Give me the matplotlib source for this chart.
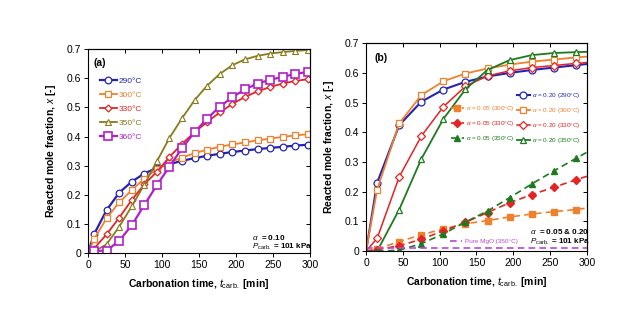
import numpy as np
import matplotlib
matplotlib.use('Agg')
import matplotlib.pyplot as plt
from matplotlib.lines import Line2D

plt.rcParams['font.family'] = ['Liberation Sans', 'DejaVu Sans']
plt.rcParams['mathtext.fontset'] = 'custom'
plt.rcParams['mathtext.rm'] = 'Liberation Sans'
plt.rcParams['mathtext.it'] = 'Liberation Sans:italic'
plt.rcParams['mathtext.bf'] = 'Liberation Sans:bold'

# ---- panel (a): alpha = 0.10, five temperatures ----
t_a = [0, 8, 25, 42, 59, 76, 93, 110, 127, 144, 161, 178, 195, 212, 229, 246, 263, 280, 297]
x_290 = [0, 0.064, 0.147, 0.207, 0.245, 0.273, 0.293, 0.305, 0.317, 0.326, 0.334, 0.341, 0.347,
         0.352, 0.357, 0.361, 0.365, 0.369, 0.372]
x_300 = [0, 0.047, 0.119, 0.174, 0.216, 0.256, 0.288, 0.310, 0.328, 0.343, 0.355, 0.365, 0.373,
         0.380, 0.387, 0.393, 0.399, 0.404, 0.408]
x_330 = [0, 0.015, 0.064, 0.121, 0.182, 0.236, 0.279, 0.330, 0.375, 0.415, 0.450, 0.483, 0.512,
         0.536, 0.555, 0.570, 0.582, 0.591, 0.597]
x_350 = [0, 0.005, 0.030, 0.090, 0.160, 0.235, 0.315, 0.395, 0.463, 0.525, 0.575, 0.615, 0.645,
         0.665, 0.677, 0.685, 0.690, 0.694, 0.697]
x_360 = [0, 0.008, 0.008, 0.042, 0.095, 0.165, 0.233, 0.297, 0.360, 0.415, 0.462, 0.503, 0.535,
         0.562, 0.582, 0.595, 0.605, 0.615, 0.622]

# ---- panel (b): alpha = 0.05 (dashed, filled) and 0.20 (solid, open) ----
t_b = [0, 15, 45, 75, 105, 135, 165, 195, 225, 255, 285, 300]
b20_290 = [0, 0.230, 0.424, 0.503, 0.544, 0.570, 0.588, 0.600, 0.610, 0.618, 0.626, 0.630]
b20_300 = [0, 0.207, 0.430, 0.525, 0.572, 0.598, 0.615, 0.628, 0.638, 0.645, 0.652, 0.655]
b20_330 = [0, 0.043, 0.250, 0.387, 0.486, 0.555, 0.590, 0.607, 0.618, 0.625, 0.632, 0.635]
b20_350 = [0, 0.000, 0.140, 0.310, 0.445, 0.545, 0.610, 0.643, 0.660, 0.667, 0.670, 0.671]
b05_300 = [0, 0.008, 0.032, 0.055, 0.075, 0.092, 0.103, 0.115, 0.125, 0.133, 0.140, 0.145]
b05_330 = [0, 0.005, 0.018, 0.040, 0.068, 0.097, 0.130, 0.163, 0.190, 0.215, 0.240, 0.252]
b05_350 = [0, 0.000, 0.003, 0.025, 0.058, 0.098, 0.135, 0.180, 0.226, 0.270, 0.312, 0.333]
t_mgo = [0, 300]
x_mgo = [0.010, 0.010]

BLUE = '#2424b4'
ORANGE = '#f0802c'
RED = '#e42424'
OLIVE = '#8a7a1c'
PURPLE = '#b020c8'
GREEN = '#1e7a1e'
MGO = '#b848d8'

fig = plt.figure(figsize=(6.4, 3.3), dpi=100)
ax_a = fig.add_axes([0.1375, 0.233, 0.347, 0.618])
ax_b = fig.add_axes([0.572, 0.239, 0.345, 0.630])


def style_axes(ax):
    ax.set_xlim(0, 300)
    ax.set_ylim(0, 0.7)
    ax.set_xticks(np.arange(0, 301, 50))
    ax.set_yticks(np.arange(0, 0.71, 0.1))
    ax.set_yticklabels(['0', '0.1', '0.2', '0.3', '0.4', '0.5', '0.6', '0.7'])
    ax.tick_params(direction='out', length=3, width=0.7, labelsize=7.5, pad=2)
    for s in ax.spines.values():
        s.set_linewidth(0.8)
    top = ax.secondary_xaxis('top')
    top.set_xticks(np.arange(0, 301, 50))
    top.set_xticklabels([])
    top.tick_params(direction='in', length=3, width=0.7)
    right = ax.secondary_yaxis('right')
    right.set_yticks(np.arange(0, 0.71, 0.1))
    right.set_yticklabels([])
    right.tick_params(direction='in', length=3, width=0.7)
    ax.set_xlabel(r'Carbonation time, $t_{\mathrm{carb.}}$ [min]', fontsize=7.5,
                  fontweight='bold', labelpad=5)
    ax.set_ylabel(r'Reacted mole fraction, $x$ [-]', fontsize=7.5, fontweight='bold', labelpad=6)


# panel (a)
mk = range(1, len(t_a))
ax_a.plot(t_a, x_290, '-o', color=BLUE, lw=1.6, ms=4.8, mfc='white', mew=0.9, markevery=mk, label='290°C')
ax_a.plot(t_a, x_300, '-s', color=ORANGE, lw=1.3, ms=5, mfc='white', mew=0.9, markevery=mk, label='300°C')
ax_a.plot(t_a, x_330, '-D', color=RED, lw=1.3, ms=3.5, mfc='white', mew=0.9, markevery=mk, label='330°C')
ax_a.plot(t_a, x_350, '-^', color=OLIVE, lw=1.3, ms=4, mfc='white', mew=0.8, markevery=mk, label='350°C')
ax_a.plot(t_a, x_360, '-s', color=PURPLE, lw=1.6, ms=5.5, mfc='white', mew=1.2, markevery=mk, label='360°C')
style_axes(ax_a)
ax_a.legend(loc='upper left', bbox_to_anchor=(0.02, 0.90), frameon=False, fontsize=6,
            handlelength=2.0, handletextpad=0.2, labelspacing=0.75, labelcolor='linecolor')
ax_a.text(0.025, 0.955, '(a)', transform=ax_a.transAxes, fontsize=7.5, fontweight='bold', va='top')
ax_a.text(0.74, 0.066, r'$\alpha$  = 0.10', transform=ax_a.transAxes, fontsize=5.8,
          fontweight='bold', va='baseline')
ax_a.text(0.74, 0.022, r'$P_{\mathrm{carb.}}$ = 101 kPa', transform=ax_a.transAxes, fontsize=5.8,
          fontweight='bold', va='baseline')

# panel (b)
mb = range(1, len(t_b) - 1)
l290 = ax_b.plot(t_b, b20_290, '-o', color=BLUE, lw=1.5, ms=5, mfc='white', mew=0.9, markevery=mb,
                 label=r'$\alpha$ = 0.20 (290°C)')[0]
l300 = ax_b.plot(t_b, b20_300, '-s', color=ORANGE, lw=1.3, ms=5, mfc='white', mew=0.9, markevery=mb,
                 label=r'$\alpha$ = 0.20 (300°C)')[0]
l330 = ax_b.plot(t_b, b20_330, '-D', color=RED, lw=1.1, ms=3.6, mfc='white', mew=0.9, markevery=mb,
                 label=r'$\alpha$ = 0.20 (330°C)')[0]
l350 = ax_b.plot(t_b, b20_350, '-^', color=GREEN, lw=1.3, ms=5, mfc='white', mew=0.9, markevery=mb,
                 label=r'$\alpha$ = 0.20 (350°C)')[0]
d300 = ax_b.plot(t_b, b05_300, '--s', color=ORANGE, lw=1.2, ms=5, markevery=mb, dashes=(4, 2.5),
                 label=r'$\alpha$ = 0.05 (300°C)')[0]
d330 = ax_b.plot(t_b, b05_330, '--D', color=RED, lw=1.2, ms=3.6, markevery=mb, dashes=(4, 2.5),
                 label=r'$\alpha$ = 0.05 (330°C)')[0]
d350 = ax_b.plot(t_b, b05_350, '--^', color=GREEN, lw=1.2, ms=5, markevery=mb, dashes=(4, 2.5),
                 label=r'$\alpha$ = 0.05 (350°C)')[0]
mgo = ax_b.plot(t_mgo, x_mgo, '--', color=MGO, lw=1.2, dashes=(4, 2.5), label='Pure MgO (350°C)')[0]
style_axes(ax_b)

leg_font = {'size': 4.6}
blank = Line2D([], [], color='none', label=' ')
leg = ax_b.legend([blank, d300, d330, d350, l290, l300, l330, l350],
                  [' ', d300.get_label(), d330.get_label(), d350.get_label(),
                   l290.get_label(), l300.get_label(), l330.get_label(), l350.get_label()],
                  ncol=2, loc='upper left', bbox_to_anchor=(0.385, 0.77), frameon=False, prop=leg_font,
                  borderaxespad=0, borderpad=0, handlelength=2.0, handletextpad=0.4,
                  columnspacing=0.3, labelspacing=0.95, labelcolor='linecolor')
ax_b.add_artist(leg)
ax_b.legend([mgo], [mgo.get_label()], loc='center left', bbox_to_anchor=(0.378, 0.048), frameon=False,
            prop=leg_font, borderaxespad=0, borderpad=0, handlelength=2.0, handletextpad=0.4,
            labelcolor='linecolor')
ax_b.text(0.04, 0.955, '(b)', transform=ax_b.transAxes, fontsize=7.5, fontweight='bold', va='top')
ax_b.text(0.742, 0.084, r'$\alpha$  = 0.05 & 0.20', transform=ax_b.transAxes, fontsize=5.8,
          fontweight='bold', va='baseline')
ax_b.text(0.742, 0.036, r'$P_{\mathrm{carb.}}$ = 101 kPa', transform=ax_b.transAxes, fontsize=5.8,
          fontweight='bold', va='baseline')

fig.savefig('out.png', dpi=100)
